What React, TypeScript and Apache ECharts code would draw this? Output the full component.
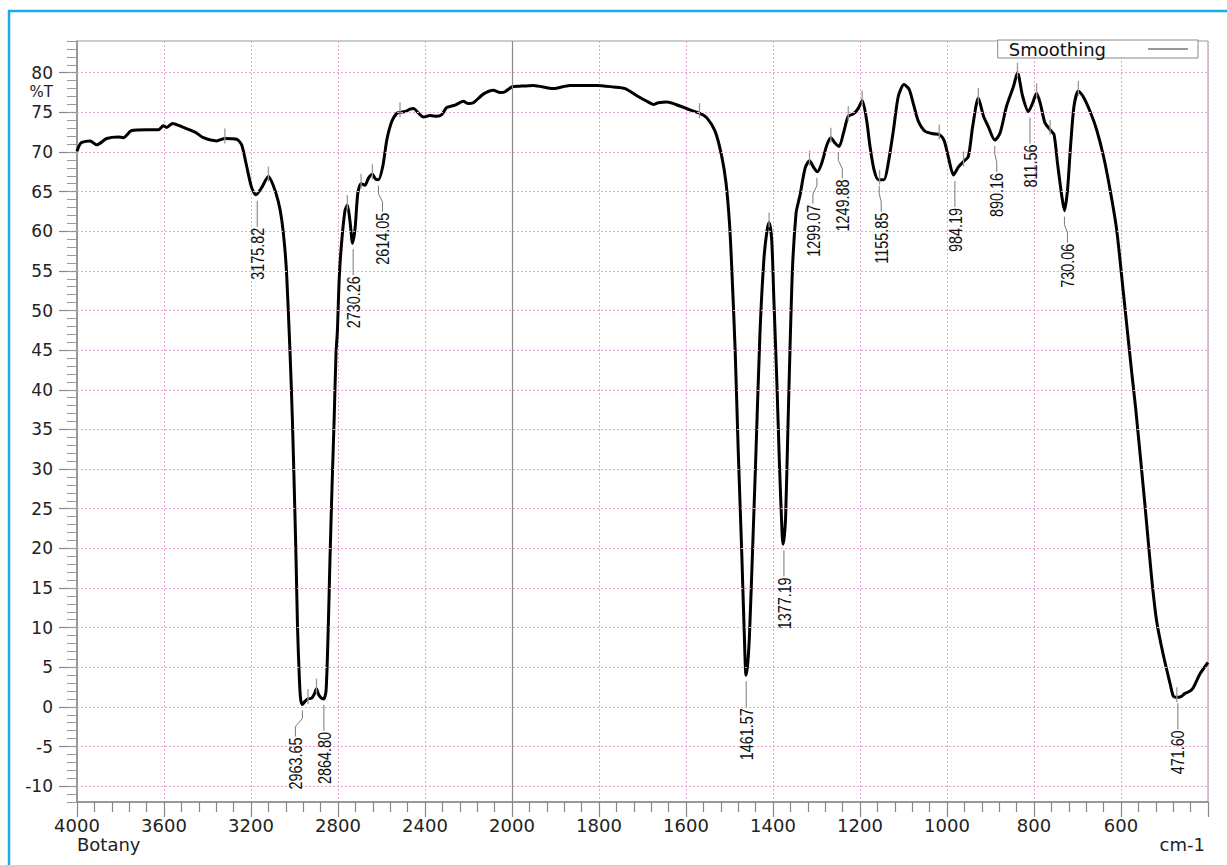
import React, { useEffect, useRef } from "react";
import * as echarts from "echarts";

// Wavenumbers (cm-1) and %T
const wavenumbers = [
  4000, 3990, 3978, 3940, 3910, 3863, 3810, 3787, 3749, 3680, 3626, 3603, 3588, 3560, 3511, 3457, 3419, 3358, 3320, 3266,
  3243, 3220, 3197, 3177, 3151, 3120, 3098, 3075, 3059, 3045, 3036, 3021, 3010, 3001, 2993, 2986, 2978, 2972, 2964, 2952,
  2938, 2921, 2909, 2899, 2890, 2880, 2866, 2855, 2845, 2837, 2828, 2818, 2809, 2803, 2794, 2783, 2768, 2757, 2745, 2733,
  2721, 2709, 2694, 2676, 2660, 2642, 2628, 2614, 2594, 2575, 2552, 2529, 2515, 2490, 2469, 2453, 2430, 2407, 2377, 2346,
  2323, 2300, 2262, 2224, 2201, 2178, 2132, 2086, 2055, 2032, 2001,
  1982, 1951, 1905, 1867, 1805, 1767, 1740, 1713, 1690, 1675, 1664, 1644, 1614, 1591, 1569, 1552, 1533, 1518, 1508, 1500,
  1495, 1487, 1480, 1472, 1466, 1462, 1458, 1454, 1447, 1439, 1430, 1421, 1414, 1409, 1403, 1398, 1391, 1385, 1379, 1377,
  1374, 1371, 1366, 1361, 1355, 1347, 1342, 1338, 1326, 1316, 1307, 1298, 1288, 1276, 1267, 1257, 1248, 1238, 1227, 1215,
  1204, 1195, 1185, 1177, 1168, 1158, 1145, 1135, 1123, 1112, 1099, 1087, 1077, 1066, 1050, 1031, 1018, 1007, 997, 985,
  974, 962, 951, 941, 928, 916, 905, 890, 878, 863, 847, 838, 826, 813, 803, 794, 785, 775, 763, 754,
  746, 736, 730, 723, 716, 708, 698, 687, 671, 656, 640, 625, 610, 595, 575, 566, 545, 530, 518, 503,
  487, 480, 473, 462, 453, 441, 434, 418, 400,
];
const transmittance = [
  70.1, 70.8, 71.2, 71.4, 70.9, 71.7, 71.9, 71.8, 72.7, 72.8, 72.8, 73.3, 73.1, 73.6, 73.1, 72.5, 71.8, 71.4, 71.7, 71.6,
  70.9, 68.2, 65.5, 64.6, 65.5, 66.9, 65.8, 63.8, 61.5, 58.0, 54.5, 45.0, 36.5, 27.5, 18.8, 10.0, 3.8, 1.0, 0.3, 0.7,
  1.0, 1.1, 1.6, 2.3, 1.6, 1.2, 1.0, 2.0, 9.8, 18.5, 27.3, 36.0, 44.7, 47.3, 54.3, 58.7, 62.6, 63.3, 61.3, 58.5,
  60.5, 64.8, 66.0, 65.8, 66.7, 67.2, 66.6, 66.5, 68.2, 71.6, 73.9, 74.9, 75.0, 75.1, 75.4, 75.5, 74.9, 74.4, 74.6, 74.5,
  74.7, 75.6, 75.9, 76.4, 76.1, 76.2, 77.3, 77.8, 77.5, 77.6, 78.2,
  78.3, 78.4, 78.0, 78.4, 78.4, 78.2, 78.0, 77.1, 76.4, 76.0, 76.2, 76.3, 75.8, 75.3, 74.9, 74.3, 72.6, 69.5, 66.1, 61.0,
  55.6, 45.0, 32.4, 19.7, 9.2, 4.0, 5.5, 9.2, 19.7, 32.4, 47.1, 56.4, 60.0, 61.1, 58.9, 51.4, 40.8, 30.3, 21.8, 20.5,
  21.5, 23.9, 34.5, 45.0, 55.6, 62.3, 63.6, 64.5, 68.0, 68.9, 68.1, 67.5, 68.6, 70.9, 71.8, 71.1, 70.7, 72.4, 74.5, 74.8,
  75.5, 76.5, 74.1, 70.7, 67.8, 66.5, 66.5, 68.6, 72.8, 77.0, 78.5, 77.9, 76.0, 73.9, 72.6, 72.3, 72.2, 71.5, 69.4, 67.1,
  68.1, 68.8, 69.4, 73.2, 76.8, 74.5, 73.2, 71.5, 72.4, 75.8, 78.3, 80.0, 77.0, 75.1, 76.2, 77.4, 76.0, 73.7, 72.8, 72.2,
  68.6, 64.4, 62.6, 65.2, 70.7, 75.8, 77.7, 77.0, 75.1, 72.8, 69.4, 65.2, 60.2, 52.5, 42.0, 37.5, 25.5, 16.5, 10.8, 6.6,
  2.9, 1.4, 1.2, 1.3, 1.7, 2.0, 2.4, 4.2, 5.6,
];

// Labelled peaks
const peakLabels = [
  "3175.82", "2963.65", "2864.80", "2730.26", "2614.05", "1461.57", "1377.19", "1299.07",
  "1249.88", "1155.85", "984.19", "890.16", "811.56", "730.06", "471.60",
];
const peakWavenumbers = [3175.82, 2963.65, 2864.8, 2730.26, 2614.05, 1461.57, 1377.19, 1299.07, 1249.88, 1155.85, 984.19, 890.16, 811.56, 730.06, 471.6];
const peakValues = [64.6, 0.3, 1.0, 58.5, 66.5, 4.0, 20.5, 67.5, 70.7, 66.5, 67.1, 71.5, 75.1, 62.6, 1.2];
// label layout (pixel shifts of the label from its peak)
const peakLabelShift = [1, -7, 0, 0, 4, 0, 1, -4, 4, 2, 1, 2, 1, 3, 1];

// Small peak marker ticks
const markerWavenumbers = [3320, 3120, 2938, 2899, 2757, 2694, 2642, 2515, 1569, 1409, 1316, 1267, 1227, 1195, 1155, 1018, 962, 928, 838, 794, 763, 698, 471.6];
const markerValues = [71.7, 66.9, 1.0, 2.3, 63.3, 66.0, 67.2, 75.0, 74.9, 61.1, 68.9, 71.8, 74.5, 76.5, 66.5, 72.2, 68.8, 76.8, 80.0, 77.4, 72.8, 77.7, 1.2];

const yMajorTicks = [-10, -5, 0, 5, 10, 15, 20, 25, 30, 35, 40, 45, 50, 55, 60, 65, 70, 75, 80];
const breakWavenumber = 2000;

// piecewise x scale: 4000-2000 compressed 2x
const toU = (w: number) => (w >= 2000 ? (4000 - w) / 2 : 1000 + (2000 - w));
const fromU = (u: number) => (u <= 1000 ? 4000 - 2 * u : 2000 - (u - 1000));

const AXIS_FONT = "DejaVu Sans";
const PEAK_FONT = '18px "Liberation Sans", Arial, sans-serif';

export default function App() {
  const ref = useRef<HTMLDivElement>(null);
  useEffect(() => {
    if (!ref.current) return;
    const chart = echarts.init(ref.current, null, { renderer: "svg" });
    const spectrum = wavenumbers.map((w, i) => [toU(w), transmittance[i]]);
    const gridPink = { color: "#e6a4d6", type: [2, 2] as any, width: 1 };
    const option: any = {
      animation: false,
      backgroundColor: "#ffffff",
      grid: { left: 77, right: 19, top: 41, bottom: 63, show: true, borderColor: "#999", borderWidth: 1 },
      legend: {
        show: true,
        right: 29,
        top: 40,
        align: "right",
        itemWidth: 40,
        itemHeight: 1.5,
        padding: [0, 10, 0, 11],
        backgroundColor: "#fff",
        borderColor: "#888",
        borderWidth: 1,
        borderRadius: 0,
        textStyle: { fontSize: 18, fontFamily: AXIS_FONT, color: "#111", padding: [0, 37, 0, 0] },
        data: [{ name: "Smoothing", icon: "rect", itemStyle: { color: "#777" } }],
      },
      xAxis: {
        type: "value",
        min: 0,
        max: 2600,
        interval: 200,
        axisLine: { show: true, onZero: false, lineStyle: { color: "#888", width: 1.5 } },
        axisTick: { show: true, length: 15, lineStyle: { color: "#888", width: 1.2 } },
        minorTick: { show: true, splitNumber: 5, length: 10, lineStyle: { color: "#888", width: 1.2 } },
        axisLabel: {
          margin: 14,
          fontSize: 18,
          fontFamily: AXIS_FONT,
          color: "#222",
          formatter: (v: number) => (v >= 2600 ? "" : String(fromU(v))),
        },
        splitLine: { show: true, lineStyle: gridPink },
        minorSplitLine: { show: false },
      },
      yAxis: [
        {
          type: "value",
          min: -12,
          max: 84,
          axisLine: { show: true, onZero: false, lineStyle: { color: "#888", width: 1.5 } },
          axisTick: { show: true, customValues: yMajorTicks, length: 18, lineStyle: { color: "#888", width: 1.2 } },
          axisLabel: { customValues: yMajorTicks, margin: 24, fontSize: 17, fontFamily: AXIS_FONT, color: "#222" },
          splitLine: { show: false },
        },
        {
          type: "value",
          min: -12,
          max: 84,
          interval: 1,
          position: "left",
          axisLine: { show: false, onZero: false },
          axisTick: { show: true, length: 10, lineStyle: { color: "#999", width: 1 } },
          axisLabel: { show: false },
          splitLine: { show: false },
        },
      ],
      series: [
        {
          name: "grid",
          type: "line",
          data: [],
          z: 1,
          silent: true,
          markLine: {
            silent: true,
            symbol: ["none", "none"],
            label: { show: false },
            lineStyle: gridPink,
            data: [
              ...yMajorTicks.map((v) => ({ yAxis: v })),
              { xAxis: toU(breakWavenumber), lineStyle: { color: "#8a8a8a", type: "solid", width: 1.2 } },
            ],
          },
        },
        {
          name: "Smoothing",
          type: "line",
          data: spectrum,
          showSymbol: false,
          symbol: "none",
          smooth: 0.25,
          z: 3,
          lineStyle: { color: "#000", width: 3 },
          itemStyle: { color: "#000" },
          emphasis: { disabled: true },
          silent: true,
        },
        {
          name: "markers",
          type: "custom",
          coordinateSystem: "cartesian2d",
          z: 4,
          silent: true,
          data: markerWavenumbers.map((w, i) => [toU(w), markerValues[i]]),
          encode: { x: 0, y: 1 },
          renderItem: (params: any, api: any) => {
            const p = api.coord([api.value(0), api.value(1)]);
            return {
              type: "line",
              shape: { x1: p[0], y1: p[1] - 10, x2: p[0], y2: p[1] + 5 },
              style: { stroke: "#999", lineWidth: 1.3 },
            };
          },
        },
        {
          name: "peaks",
          type: "custom",
          coordinateSystem: "cartesian2d",
          z: 5,
          silent: true,
          clip: false,
          data: peakWavenumbers.map((w, i) => [toU(w), peakValues[i]]),
          encode: { x: 0, y: 1 },
          renderItem: (params: any, api: any) => {
            const i = params.dataIndex;
            const p = api.coord([api.value(0), api.value(1)]);
            const dx = peakLabelShift[i];
            const top = p[1] + 33;
            const lx = p[0] + dx;
            const pts =
              Math.abs(dx) < 2
                ? [[lx, p[1] + 6], [lx, top - 1]]
                : [[p[0], p[1] + 6], [p[0], p[1] + 14], [lx, p[1] + 22], [lx, top - 1]];
            return {
              type: "group",
              children: [
                { type: "polyline", shape: { points: pts }, style: { stroke: "#777", lineWidth: 1, fill: null } },
                {
                  type: "text",
                  x: lx,
                  y: top,
                  rotation: Math.PI / 2,
                  scaleX: 0.8,
                  style: { text: peakLabels[i], align: "right", verticalAlign: "middle", font: PEAK_FONT, fill: "#111" },
                },
              ],
            };
          },
        },
      ],
      graphic: [
        {
          type: "rect",
          shape: { x: 9, y: 11, width: 1240, height: 900 },
          style: { fill: null, stroke: "#19aae8", lineWidth: 2.5 },
          silent: true,
          z: 10,
        },
        {
          type: "text",
          x: 53,
          y: 92,
          style: { text: "%T", align: "right", verticalAlign: "middle", fontSize: 15, fontFamily: AXIS_FONT, fill: "#222" },
        },
        {
          type: "text",
          x: 77,
          y: 844,
          style: { text: "Botany", align: "left", verticalAlign: "middle", fontSize: 18, fontFamily: AXIS_FONT, fill: "#222" },
        },
        {
          type: "text",
          x: 1205,
          y: 844,
          style: { text: "cm-1", align: "right", verticalAlign: "middle", fontSize: 18, fontFamily: AXIS_FONT, fill: "#222" },
        },
      ],
    };
    chart.setOption(option);
    return () => chart.dispose();
  }, []);
  return (
    <div
      ref={ref}
      style={{ position: "fixed", left: 0, top: 0, width: 1227, height: 865, background: "#fff" }}
    />
  );
}
